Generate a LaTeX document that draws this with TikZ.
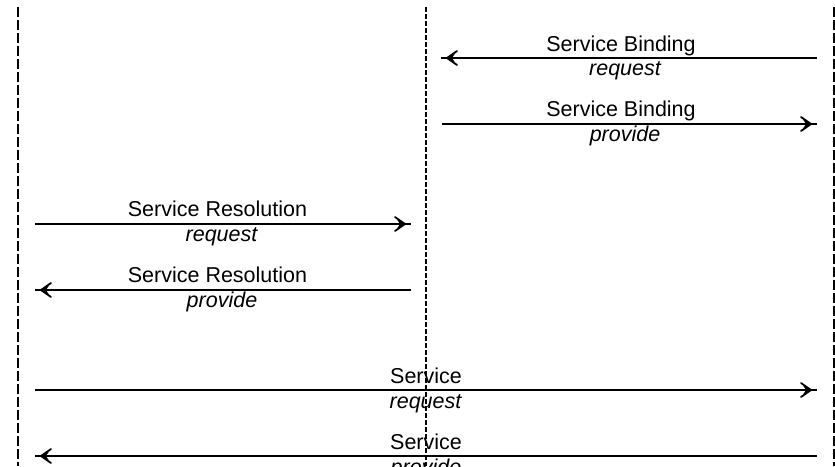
\documentclass[tikz,border=0pt]{standalone}
\usepackage{fontspec}
\setmainfont{Liberation Sans}
\usetikzlibrary{decorations.markings}
\tikzset{
  lifeline/.style={line width=2pt, dash pattern=on 10pt off 3pt},
  midline/.style={line width=1.8pt, dash pattern=on 5pt off 2pt},
  msg/.style={line width=1.6pt, postaction={decorate},
    decoration={markings, mark=at position 1 with {
      \draw[line width=1.8pt, line join=round, line cap=round]
        (-16pt,7pt) -- (-6pt,0pt) -- (-16pt,-7pt);
      \fill (-6pt,0pt) -- (-14pt,4.5pt) -- (-11pt,0pt) -- (-14pt,-4.5pt) -- cycle;
    }}},
  lbl/.style={anchor=base, inner sep=0pt, font=\fontsize{21.5}{24}\selectfont},
  act/.style={anchor=base, inner sep=0pt, font=\fontsize{21.5}{24}\selectfont\itshape}
}
\begin{document}
\begin{tikzpicture}[x=1pt, y=-1pt]
\useasboundingbox (0,0) rectangle (835,466);
\clip (0,0) rectangle (835,466);

% lifelines
\coordinate (Ltop) at (18,7);   \coordinate (Lbot) at (18,466);
\coordinate (Mtop) at (426,7);  \coordinate (Mbot) at (426,466);
\coordinate (Rtop) at (834,7);  \coordinate (Rbot) at (834,466);
\draw[lifeline] (Ltop) -- (Lbot);
\draw[midline] (Mtop) -- (Mbot);
\draw[lifeline] (Rtop) -- (Rbot);

% message end points
\coordinate (bq1) at (817,58);  \coordinate (bq2) at (441,58);
\coordinate (bp1) at (442,124); \coordinate (bp2) at (817,124);
\coordinate (rq1) at (35,224);  \coordinate (rq2) at (411,224);
\coordinate (rp1) at (411,290); \coordinate (rp2) at (35,290);
\coordinate (sq1) at (35,390);  \coordinate (sq2) at (817,390);
\coordinate (sp1) at (817,456); \coordinate (sp2) at (35,456);

% messages
\draw[msg] (bq1) -- (bq2);
\draw[msg] (bp1) -- (bp2);
\draw[msg] (rq1) -- (rq2);
\draw[msg] (rp1) -- (rp2);
\draw[msg] (sq1) -- (sq2);
\draw[msg] (sp1) -- (sp2);

% labels
\node[lbl] (tbq) at (621,51.5) {Service Binding};
\node[act] (abq) at (625,75) {request};
\node[lbl] (tbp) at (621,116.5) {Service Binding};
\node[act] (abp) at (625,141.7) {provide};

\node[lbl] (trq) at (217.5,216.7) {Service Resolution};
\node[act] (arq) at (221.5,241.7) {request};
\node[lbl] (trp) at (217.5,282.3) {Service Resolution};
\node[act] (arp) at (222,307.5) {provide};

\node[lbl] (tsq) at (426,383.3) {Service};
\node[act] (asq) at (425.5,408) {request};
\node[lbl] (tsp) at (426,449.3) {Service};
\node[act] (asp) at (426,474) {provide};
\end{tikzpicture}
\end{document}
